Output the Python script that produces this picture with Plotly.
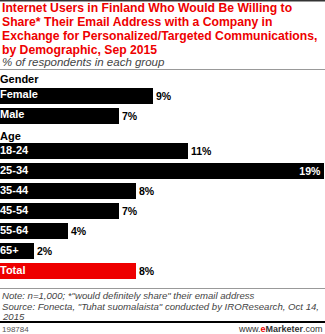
import plotly.graph_objects as go

# ---- data ----
groups = ["Gender", "Age"]
categories = ["Female", "Male", "18-24", "25-34", "35-44", "45-54", "55-64", "65+", "Total"]
cat_group = [0, 0, 1, 1, 1, 1, 1, 1, 2]
values = [9, 7, 11, 19, 8, 7, 4, 2, 8]
value_labels = ["9%", "7%", "11%", "19%", "8%", "7%", "4%", "2%", "8%"]

title_lines = [
    "Internet Users in Finland Who Would Be Willing to",
    "Share* Their Email Address with a Company in",
    "Exchange for Personalized/Targeted Communications,",
    "by Demographic, Sep 2015",
]
subtitle = "% of respondents in each group"
note_lines = [
    'Note: n=1,000; *"would definitely share" their email address',
    'Source: Fonecta, "Tuhat suomalaista" conducted by IROResearch, Oct 14,',
    "2015",
]
chart_id = "198784"

RED = "#ee0000"
FONT = "Liberation Sans"
W, H = 325, 334
PITCH = 20.0      # px per row
ROW0_PX = 95.5    # pixel centre of first row
GROUP_GAP = 0.775

# row positions: index + extra gap after the first group
rows = [i + GROUP_GAP * (1 if g >= 1 else 0) for i, g in enumerate(cat_group)]
header_rows = [rows[cat_group.index(0)] - 0.75, rows[cat_group.index(1)] - 0.68]

vmax = max(values)
colors = [RED if c == "Total" else "#000000" for c in categories]
is_max = [v == vmax for v in values]

fig = go.Figure()
fig.add_trace(go.Bar(
    x=values, y=rows, orientation="h", width=0.8,
    marker=dict(color=colors, line=dict(width=0)),
    text=[f"<b>{t}</b>" for t in value_labels],
    textposition=["inside" if m else "outside" for m in is_max],
    insidetextanchor="end",
    constraintext="none",
    textangle=0,
    textfont=dict(family=FONT, size=10.5, color=["#ffffff" if m else "#000000" for m in is_max]),
    cliponaxis=False,
    hoverinfo="skip",
))
# category labels inside the bars
fig.add_trace(go.Scatter(
    x=[0] * len(categories), y=rows, mode="text", text=[f"<b>{c}</b>" for c in categories],
    textposition="middle right",
    textfont=dict(family=FONT, size=11, color="#ffffff"),
    cliponaxis=False, hoverinfo="skip", showlegend=False,
))
# group headers
fig.add_trace(go.Scatter(
    x=[0, 0], y=header_rows, mode="text", text=[f"<b>{g}</b>" for g in groups],
    textposition="middle right",
    textfont=dict(family=FONT, size=11, color="#000000"),
    cliponaxis=False, hoverinfo="skip", showlegend=False,
))

y_top = -ROW0_PX / PITCH
y_bot = (H - ROW0_PX) / PITCH

fig.update_layout(
    width=W, height=H,
    margin=dict(l=0, r=0, t=0, b=0),
    paper_bgcolor="#ffffff", plot_bgcolor="#ffffff",
    showlegend=False, bargap=0,
    xaxis=dict(range=[0, vmax * W / 324], domain=[0, 1], visible=False, fixedrange=True),
    yaxis=dict(range=[y_bot, y_top], domain=[0, 1], visible=False, fixedrange=True),
)


def py(px):
    return 1 - px / H


ann = []
for i, line in enumerate(title_lines):
    ann.append(dict(
        text=f"<b>{line}</b>", x=0, y=py(8 + 14 * i), xref="paper", yref="paper",
        xanchor="left", yanchor="middle", showarrow=False,
        font=dict(family=FONT, size=12.2, color=RED),
    ))
ann.append(dict(
    text=f"<i>{subtitle}</i>", x=0, y=py(62), xref="paper", yref="paper",
    xanchor="left", yanchor="middle", showarrow=False,
    font=dict(family=FONT, size=11.5, color="#444444"),
))
for i, line in enumerate(note_lines):
    ann.append(dict(
        text=f"<i>{line}</i>", x=0, y=py(295.5 + 10.5 * i), xref="paper", yref="paper",
        xanchor="left", yanchor="middle", showarrow=False,
        font=dict(family=FONT, size=9.6, color="#444444"),
    ))
ann.append(dict(
    text=chart_id, x=0, y=py(329), xref="paper", yref="paper",
    xanchor="left", yanchor="middle", showarrow=False,
    font=dict(family=FONT, size=8, color="#555555"),
))
ann.append(dict(
    text=f"www.<b><span style='color:{RED}'>e</span>Marketer</b>.com", x=1, y=py(329),
    xref="paper", yref="paper", xanchor="right", yanchor="middle", showarrow=False,
    font=dict(family=FONT, size=9, color="#333333"),
))
fig.update_layout(annotations=ann)

shapes = [
    dict(type="line", xref="paper", yref="paper", x0=0, x1=1, y0=py(0.75), y1=py(0.75),
         line=dict(color="#333333", width=1.5)),
    dict(type="line", xref="paper", yref="paper", x0=0, x1=1, y0=py(69.5), y1=py(69.5),
         line=dict(color="#999999", width=1)),
    dict(type="line", xref="paper", yref="paper", x0=0, x1=1, y0=py(288.5), y1=py(288.5),
         line=dict(color="#999999", width=1)),
    dict(type="line", xref="paper", yref="paper", x0=0, x1=1, y0=py(322), y1=py(322),
         line=dict(color="#000000", width=2)),
]
fig.update_layout(shapes=shapes)

fig.write_html("out.html")
